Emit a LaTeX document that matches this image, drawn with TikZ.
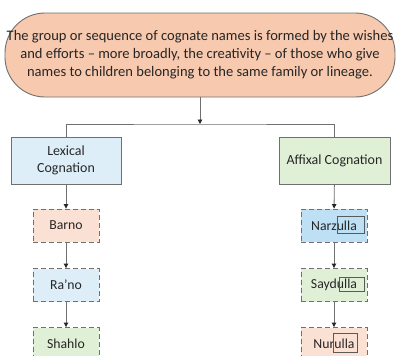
\documentclass[tikz,border=0pt]{standalone}
\usepackage{fontspec}
\setmainfont{Carlito}
\usetikzlibrary{arrows.meta}
\definecolor{salmon}{HTML}{F7C9AE}
\definecolor{lblue}{HTML}{DDEEF9}
\definecolor{mblue}{HTML}{BEE0F5}
\definecolor{lgreen}{HTML}{E0F0D6}
\definecolor{lpink}{HTML}{FBE1D3}
\definecolor{edge}{HTML}{707070}
\definecolor{txt}{HTML}{262626}
\begin{document}
\begin{tikzpicture}[x=1bp,y=-1bp,
  solidbox/.style={draw=edge,line width=0.9bp,text=txt,font=\fontsize{14}{16.5}\selectfont,align=center,minimum width=110bp,minimum height=47bp,inner sep=1bp},
  namebox/.style={draw=edge,line width=0.9bp,dash pattern=on 5bp off 3bp,text=txt,font=\fontsize{13.8}{15}\selectfont,minimum width=66bp,minimum height=33bp,inner sep=1bp},
  mark box/.style={draw=edge!80!black,line width=0.7bp,inner sep=0pt},
  conn/.style={draw=edge,line width=0.9bp},
  arr/.style={conn,-{Triangle[length=4.5bp,width=4.5bp,fill=black!85,color=black!85]}}]
\useasboundingbox (0,0) rectangle (398,356);
\fill[white] (0,0) rectangle (398,356);
\node[draw=edge,line width=0.9bp,fill=salmon,rounded corners=40bp,minimum width=390bp,minimum height=84bp,
  align=center,text=txt,font=\fontsize{14.6}{18}\selectfont,inner sep=0pt] (top) at (200,55)
  {The group or sequence of cognate names is formed by the wishes\\and efforts -- more broadly, the creativity -- of those who give\\names to children belonging to the same family or lineage.};
\node[solidbox,fill=lblue,minimum width=110bp] (lex) at (66,160.5) {Lexical\\Cognation};
\node[solidbox,fill=lgreen,minimum width=111bp] (aff) at (334.5,160.5) {Affixal Cognation};
\node[namebox,fill=lpink] (barno) at (66,225.5) {Barno};
\node[namebox,fill=lblue] (rano) at (66,285) {Ra’no};
\node[namebox,fill=lgreen] (shahlo) at (66,344) {Shahlo};
\node[namebox,fill=mblue] (narz) at (334,225.5) {Narzulla};
\node[namebox,fill=lgreen] (sayd) at (334,285) {Saydulla};
\node[namebox,fill=lpink] (nuru) at (334,344) {Nurulla};
\node[mark box,minimum width=27bp,minimum height=17bp] (m1) at (350.5,224.5) {};
\node[mark box,minimum width=25bp,minimum height=14bp] (m2) at (351.5,284) {};
\node[mark box,minimum width=24bp,minimum height=19bp] (m3) at (345,342.5) {};
\coordinate (j) at (200,124);
\draw[arr] (top.south -| j) -- (j);
\draw[conn] (lex.north) |- (j) -| (aff.north);
\draw[arr] (lex) -- (barno);
\draw[arr] (barno) -- (rano);
\draw[arr] (rano) -- (shahlo);
\draw[arr] (aff) -- (narz);
\draw[arr] (narz) -- (sayd);
\draw[arr] (sayd) -- (nuru);
\end{tikzpicture}
\end{document}
